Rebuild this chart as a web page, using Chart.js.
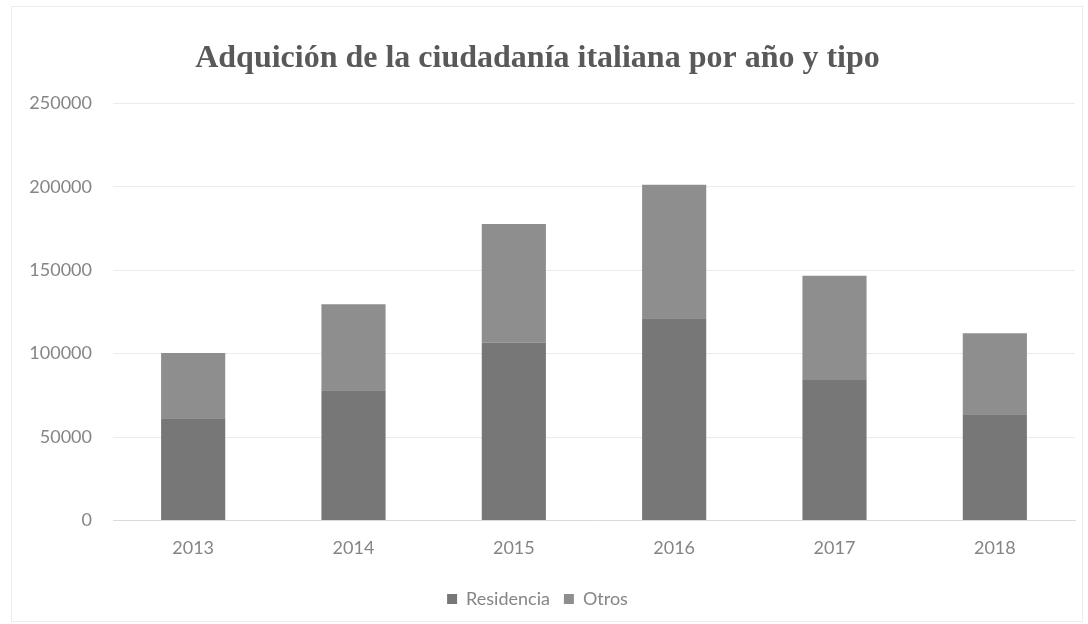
<!DOCTYPE html>
<html>
<head>
<meta charset="utf-8">
<script src="https://cdn.jsdelivr.net/npm/chart.js@4"></script>
<style>
  html, body { margin: 0; padding: 0; background: #ffffff; }
  #wrap { width: 1088px; height: 624px; position: relative; }
</style>
</head>
<body>
<div id="wrap"><canvas id="ciudadaniaChart"></canvas></div>
<script>
// Adquisiciones por año
const years = ['2013', '2014', '2015', '2016', '2017', '2018'];
const residencia = [61200, 78000, 106600, 121200, 84200, 63600];
const otros = [39200, 51600, 71100, 80000, 62400, 48600];
const yTicks = [0, 50000, 100000, 150000, 200000, 250000];

const textGray = '#858585';

// light frame around the whole chart
const frame = {
    id: 'frame',
    beforeDraw(chart) {
        const ctx = chart.ctx;
        ctx.save();
        ctx.fillStyle = '#ffffff';
        ctx.fillRect(0, 0, chart.width, chart.height);
        ctx.strokeStyle = '#ececec';
        ctx.lineWidth = 1;
        ctx.strokeRect(11.5, 6.5, 1071, 615);
        ctx.restore();
    }
};

const ctx = document.getElementById('ciudadaniaChart').getContext('2d');
new Chart(ctx, {
    type: 'bar',
    data: {
        labels: years,
        datasets: [
            { label: 'Residencia', data: residencia, backgroundColor: '#777777' },
            { label: 'Otros', data: otros, backgroundColor: '#8e8e8e' }
        ]
    },
    options: {
        responsive: true,
        maintainAspectRatio: false,
        animation: false,
        layout: { padding: { left: 0, right: 13, top: 0, bottom: 6 } },
        datasets: { bar: { categoryPercentage: 1, barPercentage: 0.4 } },
        scales: {
            x: {
                stacked: true,
                grid: { display: false, drawTicks: false },
                border: { color: '#dadada', width: 1 },
                ticks: { color: textGray, padding: 17, font: { family: 'Lato', size: 18 } }
            },
            y: {
                stacked: true,
                min: 0,
                max: 250000,
                afterBuildTicks(scale) {
                    scale.ticks = yTicks.map(v => ({ value: v }));
                },
                afterFit(scale) { scale.width = 113; },
                grid: { color: '#ebebeb', drawTicks: false },
                border: { display: false },
                ticks: {
                    color: textGray,
                    padding: 21,
                    font: { family: 'Lato', size: 18 },
                    callback: v => String(v)
                }
            }
        },
        plugins: {
            title: {
                display: true,
                text: 'Adquición de la ciudadanía italiana por año y tipo',
                color: '#595959',
                font: { family: 'Liberation Serif', size: 32, weight: 'bold' },
                padding: { top: 40, bottom: 25 }
            },
            legend: {
                position: 'bottom',
                labels: {
                    color: textGray,
                    boxWidth: 10,
                    boxHeight: 10,
                    padding: 14,
                    font: { family: 'Lato', size: 18 }
                }
            },
            tooltip: { enabled: false }
        }
    },
    plugins: [frame]
});
</script>
</body>
</html>
